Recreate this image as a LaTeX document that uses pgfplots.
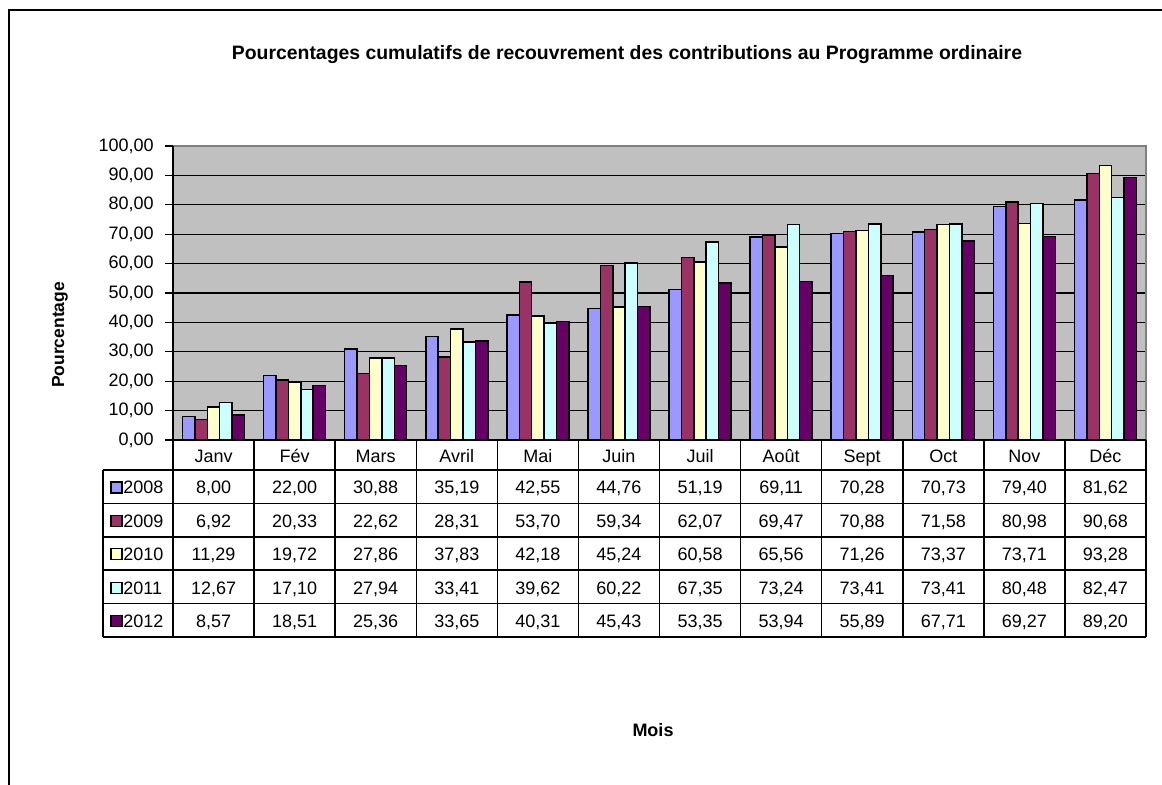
\documentclass[border=0pt]{standalone}
\usepackage{fontspec}
\setmainfont{Liberation Sans}
\usepackage{pgfplots}
\usepackage{pgfplotstable}
\pgfplotsset{compat=1.18}
\definecolor{c08}{HTML}{9999FF}
\definecolor{c09}{HTML}{993366}
\definecolor{c10}{HTML}{FFFFCC}
\definecolor{c11}{HTML}{CCFFFF}
\definecolor{c12}{HTML}{660066}
\definecolor{bg}{HTML}{C0C0C0}
\definecolor{bd}{HTML}{808080}

\pgfplotstableread{
x m a b c d e
0 Janv 8.00 6.92 11.29 12.67 8.57
1 Fév 22.00 20.33 19.72 17.10 18.51
2 Mars 30.88 22.62 27.86 27.94 25.36
3 Avril 35.19 28.31 37.83 33.41 33.65
4 Mai 42.55 53.70 42.18 39.62 40.31
5 Juin 44.76 59.34 45.24 60.22 45.43
6 Juil 51.19 62.07 60.58 67.35 53.35
7 Août 69.11 69.47 65.56 73.24 53.94
8 Sept 70.28 70.88 71.26 73.41 55.89
9 Oct 70.73 71.58 73.37 73.41 67.71
10 Nov 79.40 80.98 73.71 80.48 69.27
11 Déc 81.62 90.68 93.28 82.47 89.20
}\data

\begin{document}
\fontsize{9}{11}\selectfont
\begin{tikzpicture}
\begin{axis}[at={(0,0)}, anchor=south west, scale only axis,
  width=486.5pt, height=147pt,
  xmin=-0.5, xmax=11.5, ymin=0, ymax=100,
  ybar=0pt, bar width=6.2pt,
  xtick=\empty, ytick={0,10,...,100}, ytick pos=left,
  axis line style={draw=none},
  axis background/.style={fill=bg},
  ymajorgrids, grid style={black, line width=0.65pt},
  tick style={black, line width=0.65pt}, tick align=outside, major tick length=4pt,
  yticklabel style={font=\fontsize{9}{10}\selectfont, xshift=-2.5pt, /pgf/number format/.cd, fixed, fixed zerofill, precision=2, use comma, assume math mode=true},
  clip=false,
  every axis plot/.append style={draw=black, line width=0.75pt},
]
\addplot[fill=c08] table[x=x,y=a]{\data};
\addplot[fill=c09] table[x=x,y=b]{\data};
\addplot[fill=c10] table[x=x,y=c]{\data};
\addplot[fill=c11] table[x=x,y=d]{\data};
\addplot[fill=c12] table[x=x,y=e]{\data};
\draw[bd, line width=1pt] (rel axis cs:0,1) -- (rel axis cs:1,1) -- (rel axis cs:1,0);
\draw[black, line width=1pt] (rel axis cs:0,1) -- (rel axis cs:0,0) -- (rel axis cs:1,0);
\end{axis}
\begin{scope}[x=0.5pt,y=-0.5pt,shift={(-86.5pt,220pt)}]
\path[use as bounding box] (0,0) rectangle (1162,785);
\draw[line width=1pt] (9,800) -- (9,10) -- (1180,10);
\node[font=\bfseries\fontsize{9.7}{11}\selectfont] at (627,55) {Pourcentages cumulatifs de recouvrement des contributions au Programme ordinaire};
\node[rotate=90, font=\bfseries\fontsize{8.75}{10}\selectfont] at (60,335) {Pourcentage};
\node[font=\bfseries\fontsize{9}{10}\selectfont] at (653,730) {Mois};
\foreach \k in {0,...,12} \draw[line width=0.75pt] ({173+81.0833*\k},440) -- ({173+81.0833*\k},637);
\draw[line width=0.75pt] (103,470) -- (103,637);
\foreach \r in {0,...,5} \draw[line width=0.75pt] (102.6,{470+33.4*\r}) -- (1146.4,{470+33.4*\r});
\pgfplotstableforeachcolumnelement{m}\of\data\as\cell{%
  \node[anchor=base] at ({173+81.0833*(\pgfplotstablerow+0.5)},463) {\cell};}
\foreach \col [count=\r from 0] in {a,b,c,d,e} {
  \pgfplotstableforeachcolumnelement{\col}\of\data\as\cell{%
    \node[anchor=base] at ({173+81.0833*(\pgfplotstablerow+0.5)},{494+33.4*\r}) {\pgfmathprintnumber[fixed,fixed zerofill,precision=2,use comma,assume math mode=true]{\cell}};}
}
\foreach \c/\y [count=\r from 0] in {c08/2008,c09/2009,c10/2010,c11/2011,c12/2012} {
  \draw[fill=\c, line width=0.6pt] (111,{487.5+33.4*\r-5.5}) rectangle (122,{487.5+33.4*\r+5.5});
  \node[anchor=base west, inner sep=0pt] at (123,{494+33.4*\r}) {\y};
}
\end{scope}
\end{tikzpicture}
\end{document}
